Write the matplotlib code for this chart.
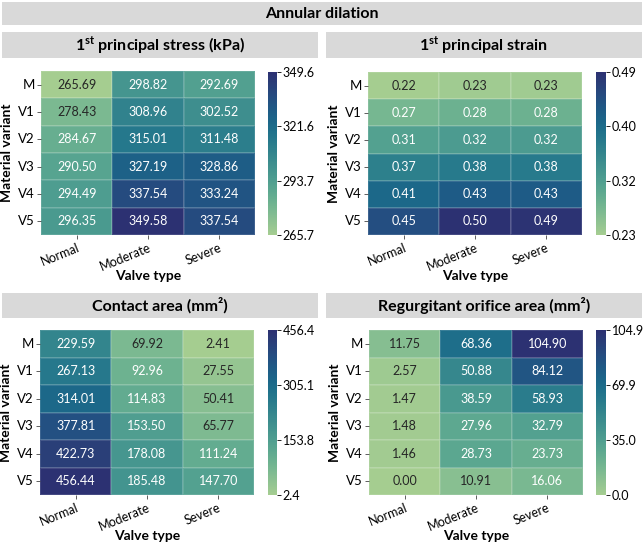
import numpy as np
import matplotlib
matplotlib.use('Agg')
import matplotlib.pyplot as plt
import seaborn as sns
from matplotlib.patches import Rectangle

variants = ['M', 'V1', 'V2', 'V3', 'V4', 'V5']
valves = ['Normal', 'Moderate', 'Severe']

stress = [[265.69, 298.82, 292.69],
          [278.43, 308.96, 302.52],
          [284.67, 315.01, 311.48],
          [290.50, 327.19, 328.86],
          [294.49, 337.54, 333.24],
          [296.35, 349.58, 337.54]]
strain = [[0.22, 0.23, 0.23],
          [0.27, 0.28, 0.28],
          [0.31, 0.32, 0.32],
          [0.37, 0.38, 0.38],
          [0.41, 0.43, 0.43],
          [0.45, 0.50, 0.49]]
contact = [[229.59, 69.92, 2.41],
           [267.13, 92.96, 27.55],
           [314.01, 114.83, 50.41],
           [377.81, 153.50, 65.77],
           [422.73, 178.08, 111.24],
           [456.44, 185.48, 147.70]]
orifice = [[11.75, 68.36, 104.90],
           [2.57, 50.88, 84.12],
           [1.47, 38.59, 58.93],
           [1.48, 27.96, 32.79],
           [1.46, 28.73, 23.73],
           [0.00, 10.91, 16.06]]

titles = [r'1$^{\mathbf{st}}$ principal stress (kPa)',
          r'1$^{\mathbf{st}}$ principal strain',
          'Contact area (mm²)',
          'Regurgitant orifice area (mm²)']
cbar_labels = [['265.7', '293.7', '321.6', '349.6'],
               ['0.23', '0.32', '0.40', '0.49'],
               ['2.4', '153.8', '305.1', '456.4'],
               ['0.0', '35.0', '69.9', '104.9']]
cbar_lims = [(265.69, 349.58), (0.225, 0.494), (2.41, 456.44), (0.0, 104.90)]

plt.rcParams['font.family'] = ['Lato', 'DejaVu Sans']
plt.rcParams['mathtext.fontset'] = 'custom'
plt.rcParams['mathtext.rm'] = 'Lato'
plt.rcParams['mathtext.bf'] = 'Lato:bold'

W, H = 644, 545
fig = plt.figure(figsize=(W / 100, H / 100), dpi=100)


def box(x0, y0, x1, y1):
    # pixel coords from top-left
    return [x0 / W, 1 - y1 / H, (x1 - x0) / W, (y1 - y0) / H]


def title_box(x0, y0, x1, y1, text, size):
    b = box(x0, y0, x1, y1)
    fig.patches.append(Rectangle((b[0], b[1]), b[2], b[3], transform=fig.transFigure,
                                 facecolor='#d9d9d9', edgecolor='none'))
    fig.text(b[0] + b[2] / 2, b[1] + b[3] / 2, text, ha='center', va='center',
             fontsize=size, fontweight='bold')


title_box(2, 2, 642, 25, 'Annular dilation', 11.5)

datasets = [stress, strain, contact, orifice]
title_pos = [(2, 32, 318, 58), (326, 32, 642, 58), (2, 293, 318, 318), (326, 293, 642, 318)]
ax_pos = [(41, 71, 255, 235), (368, 72, 582, 235), (40, 330, 254, 495), (369, 330, 583, 495)]
cb_pos = [(268, 72, 277, 235), (596, 72, 606, 235), (268, 330, 277, 495), (596, 330, 606, 495)]

for i, data in enumerate(datasets):
    title_box(*title_pos[i], titles[i], 11.5)
    ax = fig.add_axes(box(*ax_pos[i]))
    cax = fig.add_axes(box(*cb_pos[i]))
    vmin, vmax = cbar_lims[i]
    arr = np.array(data)
    sns.heatmap(arr, ax=ax, cbar_ax=cax, cmap='crest', vmin=vmin, vmax=vmax,
                annot=True, fmt='.2f', annot_kws={'fontsize': 9},
                linewidths=0.3, linecolor=(1, 1, 1, 0.12),
                xticklabels=valves, yticklabels=variants)
    ax.tick_params(axis='both', labelsize=9.5, length=3, width=0.6, color='#444444', pad=2)
    ax.tick_params(axis='y', pad=1.5)
    ax.tick_params(axis='x', labelsize=9)
    ax.set_yticklabels(variants, rotation=0)
    ax.set_xticklabels(valves, rotation=22, ha='right', rotation_mode='anchor')
    ax.set_ylabel('Material variant', fontsize=10, fontweight='bold', va='center')
    ax.set_xlabel('Valve type', fontsize=10, fontweight='bold', va='center')
    ax.yaxis.set_label_coords(-0.158, 0.5)
    ax.xaxis.set_label_coords(0.5, -0.25)
    cax.set_yticks(np.linspace(vmin, vmax, 4))
    cax.set_yticklabels(cbar_labels[i])
    cax.tick_params(labelsize=9, length=3, width=0.6, pad=1)
    for s in cax.spines.values():
        s.set_visible(False)

fig.savefig('out.png', dpi=100)
